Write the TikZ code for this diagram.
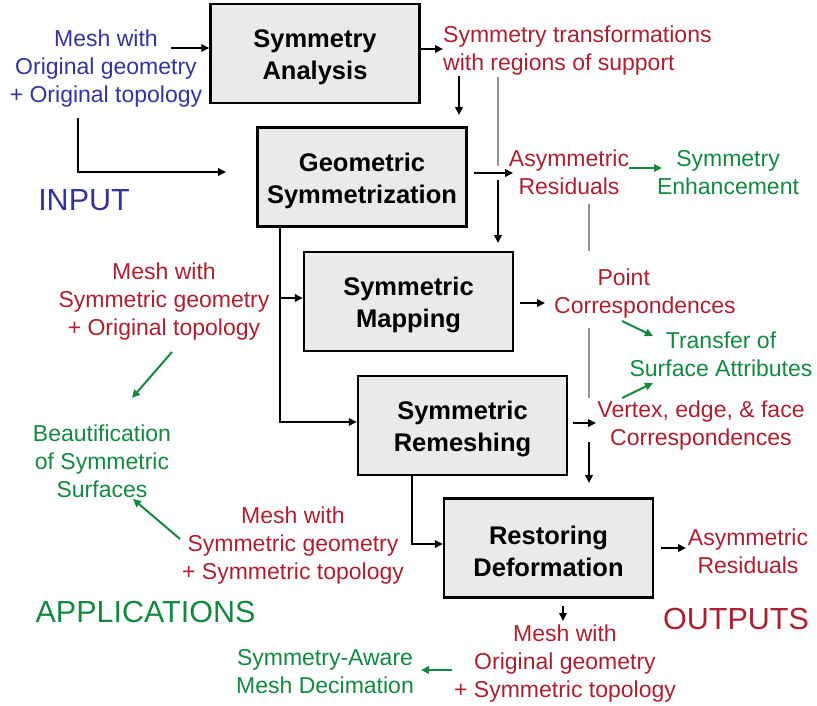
\documentclass[tikz,border=0pt]{standalone}
\usepackage{fontspec}
\setmainfont{Liberation Sans}
\usetikzlibrary{arrows.meta}
\definecolor{cblue}{RGB}{51,51,153}
\definecolor{cred}{RGB}{170,32,48}
\definecolor{cgreen}{RGB}{20,135,65}
\definecolor{boxfill}{RGB}{234,234,234}
\newcommand{\boxlift}{\rule{0pt}{25.5pt}}
\tikzset{
  procbox/.style={draw=black, line width=2.5pt, fill=boxfill, minimum width=209pt, minimum height=99pt, align=center, font=\fontsize{25.5}{32}\selectfont\bfseries},
  small/.style={align=center, inner sep=0pt, font=\fontsize{23}{28}\selectfont},
  big/.style={inner sep=0pt, font=\fontsize{30.5}{36}\selectfont},
  arr/.style={draw=black, line width=2.2pt, -{Triangle[length=8pt,width=7.5pt]}},
  garr/.style={draw=cgreen, color=cgreen, line width=2pt, -{Triangle[length=8pt,width=7.5pt]}},
  link/.style={draw=black, line width=1.8pt, -{Triangle[length=8pt,width=7.5pt]}},
  grayline/.style={draw=gray!85, line width=1.5pt},
}
\begin{document}
\begin{tikzpicture}[x=1pt,y=-1pt]
\useasboundingbox (0,0) rectangle (817,706);
% process boxes
\node[procbox] (sa) at (315,53.5) {\boxlift Symmetry\\Analysis};
\node[procbox] (gs) at (362,177) {\boxlift Geometric\\Symmetrization};
\node[procbox] (sm) at (408.5,301.5) {\boxlift Symmetric\\Mapping};
\node[procbox] (sr) at (462.5,425.5) {\boxlift Symmetric\\Remeshing};
\node[procbox] (rd) at (548.5,548) {\boxlift Restoring\\Deformation};
% texts
\node[small, text=cblue] (in1) at (106,68.5) {Mesh with\\Original geometry\\+ Original topology};
\node[big, text=cblue] (inl) at (84,200) {INPUT};
\node[small, text=cred, anchor=west, align=left] (st) at (443,51) {Symmetry transformations\\with regions of support};
\node[small, text=cred] (ar1) at (569,172) {Asymmetric\\Residuals};
\node[small, text=cgreen] (se) at (728,173) {Symmetry\\Enhancement};
\node[small, text=cred] (in2) at (164,302) {Mesh with\\Symmetric geometry\\+ Original topology};
\node[small, text=cred] (pc) at (645,293.5) {\makebox[95pt][l]{Point}\\Correspondences};
\node[small, text=cgreen] (ta) at (721,354) {Transfer of\\Surface Attributes};
\node[small, text=cred] (vc) at (701,426) {Vertex, edge, \& face\\Correspondences};
\node[small, text=cgreen] (bs) at (102,461.5) {Beautification\\of Symmetric\\Surfaces};
\node[small, text=cred] (mss) at (293,545.5) {Mesh with\\Symmetric geometry\\+ Symmetric topology};
\node[big, text=cgreen] (app) at (145.5,612) {APPLICATIONS};
\node[small, text=cred] (ar2) at (748,551) {Asymmetric\\Residuals};
\node[big, text=cred] (outl) at (736,619) {OUTPUTS};
\node[small, text=cred] (mos) at (565,663.5) {Mesh with\\Original geometry\\+ Symmetric topology};
\node[small, text=cgreen] (sad) at (325,672) {Symmetry-Aware\\Mesh Decimation};
% free ends
\coordinate (c1) at (171,48);
\coordinate (c2) at (78,118);
\coordinate (c3) at (226,172);
\coordinate (c4) at (459,76);
\coordinate (c5) at (459,115);
\coordinate (g1) at (498,77);
\coordinate (g2) at (498,166);
\coordinate (c6a) at (474,173);
\coordinate (c6b) at (513,173);
\coordinate (c7) at (498,180);
\coordinate (c8) at (498,243);
\coordinate (e1) at (629,168);
\coordinate (e2) at (662,168);
\coordinate (g3) at (589,204);
\coordinate (g4) at (589,251);
\coordinate (g5) at (589,328);
\coordinate (g6) at (589,398);
\coordinate (c9) at (589,442);
\coordinate (c10) at (589,483);
\coordinate (m1) at (520,303);
\coordinate (m2) at (545,303);
\coordinate (t1) at (622,321);
\coordinate (t2) at (653,336);
\coordinate (t3) at (622,398);
\coordinate (t4) at (653,383);
\coordinate (r1) at (573,423);
\coordinate (r2) at (596,423);
\coordinate (b1) at (172,352);
\coordinate (b2) at (132,398);
\coordinate (b3) at (180,539);
\coordinate (b4) at (133,499);
\coordinate (o1) at (661,548);
\coordinate (o2) at (686,548);
\coordinate (o3) at (563,606);
\coordinate (o4) at (563,621);
\coordinate (s1) at (452,670);
\coordinate (s2) at (421,670);
% connectors
\draw[arr] (c1) -- (c1 -| sa.west);
\draw[link] (c2) |- (c3);
\draw[arr] (sa.east |- 0,49) -- (st.west |- 0,49);
\draw[arr] (c4) -- (c5);
\draw[grayline] (g1) -- (g2);
\draw[arr] (c6a) -- (c6b);
\draw[arr] (c7) -- (c8);
\draw[garr] (e1) -- (e2);
\draw[grayline] (g3) -- (g4);
\draw[grayline] (g5) -- (g6);
\draw[arr] (c9) -- (c10);
\draw[arr] (m1) -- (m2);
\draw[garr] (t1) -- (t2);
\draw[garr] (t3) -- (t4);
\draw[arr] (r1) -- (r2);
\draw[link] (gs.south -| 280,0) |- (sr.west |- 0,422);
\draw[link] (280,298) -- (sm.west |- 0,298);
\draw[link] (sr.south -| 412,0) |- (rd.west |- 0,544);
\draw[garr] (b1) -- (b2);
\draw[garr] (b3) -- (b4);
\draw[arr] (o1) -- (o2);
\draw[arr] (o3) -- (o4);
\draw[garr] (s1) -- (s2);
\end{tikzpicture}
\end{document}
